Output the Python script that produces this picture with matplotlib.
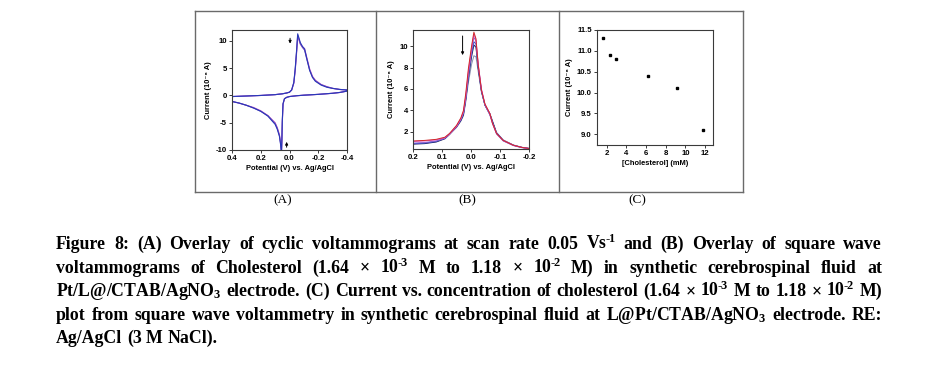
import matplotlib
matplotlib.use("Agg")
import matplotlib.pyplot as plt
from matplotlib.lines import Line2D

plt.rcParams['axes.unicode_minus'] = False
plt.rcParams['mathtext.fontset'] = 'custom'
plt.rcParams['mathtext.rm'] = 'Liberation Serif:bold'
plt.rcParams['mathtext.it'] = 'Liberation Serif:bold'
plt.rcParams['mathtext.bf'] = 'Liberation Serif:bold'

# ---------------- data ----------------
# Panel A: cyclic voltammograms (closed loop, potential in V, current in 1e-6 A)
cv_potential = [0.40, 0.30, 0.20, 0.10, 0.05, 0.02, 0.00, -0.015, -0.03, -0.04, -0.05, -0.057,
                -0.065, -0.075, -0.09, -0.105, -0.12, -0.14, -0.16, -0.18, -0.22, -0.26, -0.30,
                -0.35, -0.40,
                -0.40, -0.35, -0.30, -0.20, -0.10, -0.05, 0.00, 0.02, 0.035, 0.045, 0.05, 0.053,
                0.056, 0.062, 0.07, 0.085, 0.10, 0.15, 0.20, 0.25, 0.30, 0.35, 0.40]
cv_blue = [-0.2, -0.1, 0.0, 0.15, 0.3, 0.45, 0.6, 1.0, 2.4, 5.0, 8.5, 11.3,
           10.6, 9.7, 9.0, 8.5, 6.8, 4.6, 3.3, 2.6, 1.9, 1.5, 1.3,
           1.1, 1.0,
           0.8, 0.55, 0.4, 0.2, 0.05, -0.05, -0.2, -0.35, -0.6, -1.5, -4.5, -8.0,
           -10.5, -9.0, -7.5, -6.2, -5.3, -3.8, -2.9, -2.3, -1.8, -1.4, -1.1]
cv_purple = [-0.2, -0.1, 0.0, 0.15, 0.3, 0.45, 0.6, 1.0, 2.3, 4.8, 8.3, 11.0,
             10.4, 9.5, 8.8, 8.3, 6.7, 4.7, 3.4, 2.7, 2.0, 1.6, 1.3,
             1.1, 1.0,
             0.8, 0.55, 0.4, 0.2, 0.05, -0.05, -0.2, -0.35, -0.6, -1.6, -4.8, -8.3,
             -10.5, -8.8, -7.3, -6.0, -5.1, -3.7, -2.9, -2.3, -1.8, -1.4, -1.1]
cv_magenta = [-0.2, -0.1, 0.0, 0.15, 0.3, 0.45, 0.6, 1.0, 2.2, 4.6, 8.0, 10.7,
              10.2, 9.4, 8.9, 8.6, 7.0, 4.9, 3.5, 2.8, 2.0, 1.6, 1.3,
              1.1, 1.0,
              0.8, 0.55, 0.4, 0.2, 0.05, -0.05, -0.2, -0.35, -0.6, -1.6, -5.0, -8.6,
              -10.5, -8.6, -7.2, -5.9, -5.0, -3.7, -2.8, -2.2, -1.8, -1.4, -1.1]

# Panel B: square wave voltammograms
swv_potential = [0.20, 0.16, 0.12, 0.09, 0.074, 0.05, 0.035, 0.026, 0.018, 0.009, -0.002, -0.010,
                 -0.017, -0.025, -0.036, -0.048, -0.065, -0.074, -0.088, -0.111, -0.146, -0.175, -0.200]
swv_red = [1.15, 1.20, 1.30, 1.50, 1.85, 2.60, 3.30, 4.00, 5.60, 7.90, 10.0, 11.3,
           10.7, 8.2, 5.9, 4.6, 3.7, 2.8, 1.85, 1.20, 0.75, 0.55, 0.45]
swv_magenta = [1.10, 1.15, 1.25, 1.45, 1.80, 2.50, 3.20, 3.85, 5.30, 7.60, 9.80, 11.1,
               10.6, 8.3, 6.0, 4.6, 3.7, 2.8, 1.85, 1.20, 0.75, 0.55, 0.45]
swv_violet = [0.95, 1.00, 1.15, 1.40, 1.80, 2.50, 3.20, 3.80, 5.20, 7.40, 9.60, 10.8,
              10.5, 8.2, 5.9, 4.5, 3.6, 2.8, 1.80, 1.15, 0.72, 0.52, 0.42]
swv_blue = [0.90, 0.95, 1.10, 1.40, 1.80, 2.50, 3.10, 3.70, 5.10, 7.20, 9.30, 10.4,
            10.2, 8.0, 5.8, 4.5, 3.6, 2.9, 1.90, 1.20, 0.75, 0.55, 0.45]
swv_navy = [0.85, 0.90, 1.05, 1.35, 1.75, 2.45, 3.05, 3.60, 5.00, 7.00, 9.00, 10.1,
            9.9, 7.9, 5.8, 4.5, 3.7, 3.0, 1.90, 1.20, 0.75, 0.55, 0.45]
swv_gray = [0.90, 0.95, 1.10, 1.40, 1.80, 2.40, 3.00, 3.50, 4.80, 6.60, 8.30, 9.1,
            9.0, 7.6, 5.7, 4.5, 3.7, 3.0, 1.95, 1.25, 0.78, 0.56, 0.46]

# Panel C: peak current vs concentration
chol_mM = [1.64, 2.3, 2.9, 6.2, 9.1, 11.8]
peak_current = [11.3, 10.9, 10.8, 10.4, 10.1, 9.1]

xticks_A = [0.4, 0.2, 0.0, -0.2, -0.4]
xticklabels_A = ["0.4", "0.2", "0.0", "-0.2", "-0.4"]
yticks_A = [-10, -5, 0, 5, 10]
xticks_B = [0.2, 0.1, 0.0, -0.1, -0.2]
xticklabels_B = ["0.2", "0.1", "0.0", "-0.1", "-0.2"]
yticks_B = [2, 4, 6, 8, 10]
xticks_C = [2, 4, 6, 8, 10, 12]
yticks_C = [9.0, 9.5, 10.0, 10.5, 11.0, 11.5]
yticklabels_C = ["9.0", "9.5", "10.0", "10.5", "11.0", "11.5"]

caption_lines = [
    "Figure 8: (A) Overlay of cyclic voltammograms at scan rate 0.05 Vs$^{\u2010\\!1}$ and (B) Overlay of square wave",
    "voltammograms of Cholesterol (1.64 × 10$^{\u2010\\!3}$ M to 1.18 × 10$^{\u2010\\!2}$ M) in synthetic cerebrospinal fluid at",
    "Pt/L@/CTAB/AgNO$_{3}$ electrode. (C) Current vs. concentration of cholesterol (1.64 × 10$^{\u2010\\!3}$ M to 1.18 × 10$^{\u2010\\!2}$ M)",
    "plot from square wave voltammetry in synthetic cerebrospinal fluid at L@Pt/CTAB/AgNO$_{3}$ electrode. RE:",
    "Ag/AgCl (3 M NaCl).",
]

# ---------------- figure ----------------
W, H = 935, 387
fig = plt.figure(figsize=(W / 100, H / 100), dpi=100)
fig.patch.set_facecolor("white")


def fx(px):
    return px / W


def fy(py):
    return 1 - py / H


SANS = ['Liberation Sans', 'DejaVu Sans']
TICKFS = 5.6
LABFS = 5.4


def make_axes(l, t, r, b):
    ax = fig.add_axes([fx(l), fy(b), fx(r) - fx(l), fy(t) - fy(b)])
    for s in ax.spines.values():
        s.set_color("#3a3a3a")
        s.set_linewidth(0.8)
    ax.tick_params(direction="out", length=2.5, width=0.7, color="#3a3a3a",
                   labelsize=TICKFS, pad=1.2, top=False, right=False)
    return ax


def style_ticklabels(ax):
    for lab in ax.get_xticklabels() + ax.get_yticklabels():
        lab.set_fontfamily(SANS)
        lab.set_fontweight("bold")


# Panel A
axA = make_axes(232, 30, 347, 150)
axA.plot(cv_potential, cv_magenta, color="#d060c8", lw=0.8)
axA.plot(cv_potential, cv_purple, color="#8050c0", lw=0.8)
axA.plot(cv_potential, cv_blue, color="#2838b8", lw=0.8)
axA.set_xlim(0.4, -0.4)
axA.set_ylim(-10, 12)
axA.set_xticks(xticks_A)
axA.set_xticklabels(xticklabels_A)
axA.set_yticks(yticks_A)
style_ticklabels(axA)
axA.set_xlabel("Potential (V) vs. Ag/AgCl", fontsize=LABFS, family=SANS, fontweight="bold", labelpad=2)
axA.set_ylabel("Current (10⁻⁶ A)", fontsize=LABFS, family=SANS, fontweight="bold", labelpad=3)
axA.annotate("", xy=(-0.004, 9.0), xytext=(-0.004, 11.0),
             arrowprops=dict(arrowstyle="-|>", lw=0.7, color="black", mutation_scale=4))
axA.annotate("", xy=(0.02, -8.0), xytext=(0.02, -10.0),
             arrowprops=dict(arrowstyle="-|>", lw=0.7, color="black", mutation_scale=4))

# Panel B
axB = make_axes(413, 30, 529, 149)
for ys, c in [(swv_gray, "#8890b0"), (swv_navy, "#202058"), (swv_blue, "#3050c8"),
              (swv_violet, "#9060d0"), (swv_magenta, "#e050c0"), (swv_red, "#d02828")]:
    axB.plot(swv_potential, ys, color=c, lw=0.7)
axB.set_xlim(0.2, -0.2)
axB.set_ylim(0.4, 11.5)
axB.set_xticks(xticks_B)
axB.set_xticklabels(xticklabels_B)
axB.set_yticks(yticks_B)
style_ticklabels(axB)
axB.set_xlabel("Potential (V) vs. Ag/AgCl", fontsize=LABFS, family=SANS, fontweight="bold", labelpad=2)
axB.set_ylabel("Current (10⁻⁶ A)", fontsize=LABFS, family=SANS, fontweight="bold", labelpad=3)
axB.annotate("", xy=(0.029, 8.9), xytext=(0.029, 11.2),
             arrowprops=dict(arrowstyle="-|>", lw=0.7, color="black", mutation_scale=4))

# Panel C
axC = make_axes(597, 30, 713, 145)
axC.plot(chol_mM, peak_current, linestyle="none", marker="s", markersize=1.6, color="black")
axC.set_xlim(1.0, 12.8)
axC.set_ylim(8.74, 11.5)
axC.set_xticks(xticks_C)
axC.set_yticks(yticks_C)
axC.set_yticklabels(yticklabels_C)
style_ticklabels(axC)
axC.set_xlabel("[Cholesterol] (mM)", fontsize=LABFS, family=SANS, fontweight="bold", labelpad=2)
axC.set_ylabel("Current (10⁻⁶ A)", fontsize=LABFS, family=SANS, fontweight="bold", labelpad=3)

# Outer frame with dividers
frame_kw = dict(color="#6a6a6a", lw=1.0, transform=fig.transFigure)
fig.add_artist(Line2D([fx(195), fx(743)], [fy(11), fy(11)], **frame_kw))
fig.add_artist(Line2D([fx(195), fx(743)], [fy(192), fy(192)], **frame_kw))
for xp in [195, 376, 559, 743]:
    fig.add_artist(Line2D([fx(xp), fx(xp)], [fy(11), fy(192)], **frame_kw))

# Panel labels
for lab, xp in [("(A)", 283), ("(B)", 467), ("(C)", 637)]:
    fig.text(fx(xp), fy(200), lab, ha="center", va="center", fontsize=9.5,
             family="Liberation Serif")

# Caption, justified
fig.canvas.draw()
rend = fig.canvas.get_renderer()
CAP_KW = dict(fontsize=12.8, family="Liberation Serif", fontweight="bold", color="black")
LEFT, RIGHT = 56, 882
BASE0, STEP = 249, 23.6


def wwidth(s):
    t = fig.text(0, 0, s, **CAP_KW)
    w = t.get_window_extent(rend).width
    t.remove()
    return w


space_w = wwidth("a b") - wwidth("ab")
for i, line in enumerate(caption_lines):
    words = line.split(" ")
    widths = [wwidth(w) for w in words]
    if i < len(caption_lines) - 1 and len(words) > 1:
        gap = (RIGHT - LEFT - sum(widths)) / (len(words) - 1)
    else:
        gap = space_w
    x = LEFT
    yb = BASE0 + i * STEP
    for w, wd in zip(words, widths):
        fig.text(fx(x), fy(yb), w, ha="left", va="baseline", **CAP_KW)
        x += wd + gap

fig.savefig("out.png", dpi=100, facecolor="white")
